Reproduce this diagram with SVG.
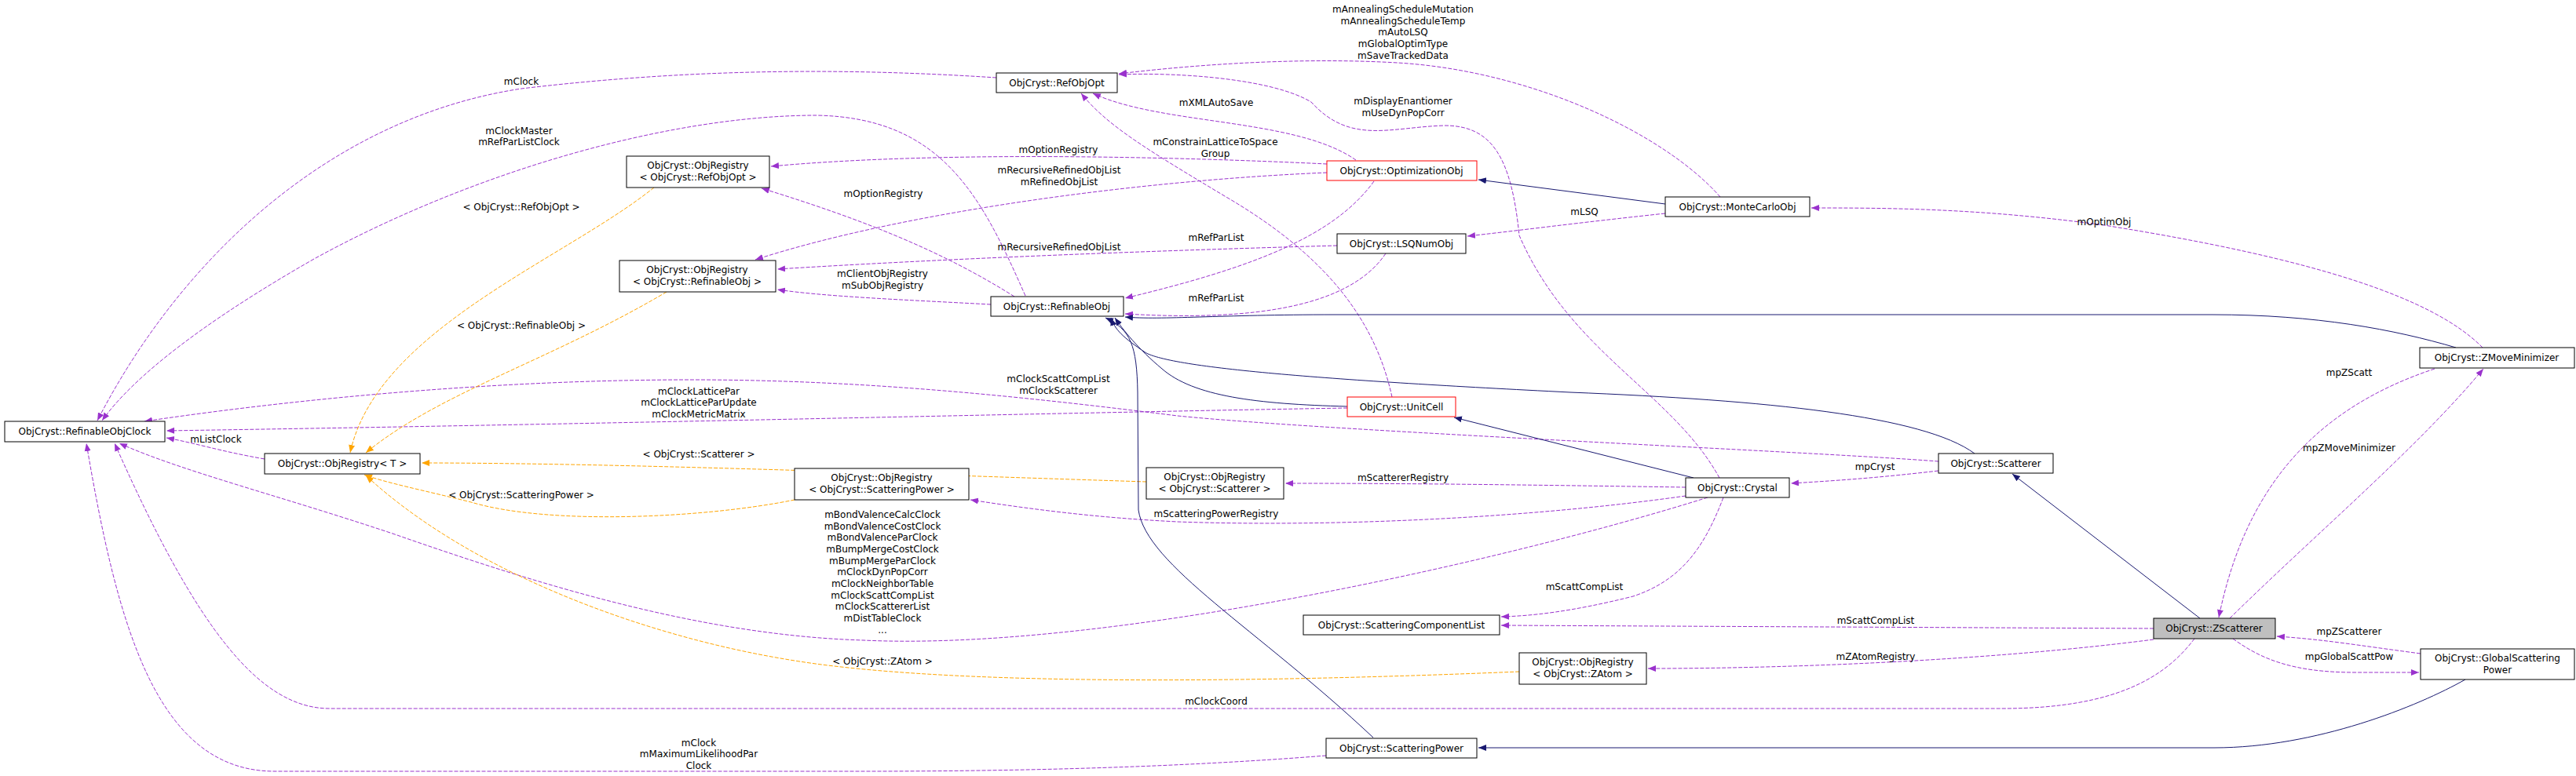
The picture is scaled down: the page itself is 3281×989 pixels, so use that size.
<svg xmlns="http://www.w3.org/2000/svg" width="3281" height="989" viewBox="0 0 3281 989">
<defs>
<style>
text{font-family:"DejaVu Sans","Liberation Sans",sans-serif;font-size:12px;fill:#000;text-anchor:middle}
.n rect{fill:#fff;stroke:#000;stroke-width:1}
.n rect.red{stroke:#ff0000}
.n rect.cur{fill:#bfbfbf;stroke:#000}
.u{fill:none;stroke:#9a32cd;stroke-width:1;stroke-dasharray:5,2;marker-end:url(#mp)}
.t{fill:none;stroke:#ffa500;stroke-width:1;stroke-dasharray:5,2;marker-end:url(#mo)}
.i{fill:none;stroke:#191970;stroke-width:1;marker-end:url(#mn)}
</style>
<marker id="mp" viewBox="0 0 10 10" refX="10" refY="5" markerWidth="10" markerHeight="10" markerUnits="userSpaceOnUse" orient="auto"><path d="M0,1 L10,5 L0,9 z" fill="#9a32cd"/></marker>
<marker id="mo" viewBox="0 0 10 10" refX="10" refY="5" markerWidth="10" markerHeight="10" markerUnits="userSpaceOnUse" orient="auto"><path d="M0,1 L10,5 L0,9 z" fill="#ffa500"/></marker>
<marker id="mn" viewBox="0 0 10 10" refX="10" refY="5" markerWidth="10" markerHeight="10" markerUnits="userSpaceOnUse" orient="auto"><path d="M0,1 L10,5 L0,9 z" fill="#191970"/></marker>
</defs>
<rect width="3281" height="989" fill="#fff"/>
<g id="connectors">
<path class="u" d="M1269,99 C1100,88 900,85 664,113 C420,150 230,330 124,536"/>
<path class="u" d="M1306,377 C1250,250 1200,150 1040,147 C850,147 600,220 400,330 C260,410 170,480 130,536"/>
<path class="u" d="M1690,209 C1500,200 1200,192 982,212"/>
<path class="u" d="M1292,378 C1200,320 1100,280 970,240"/>
<path class="u" d="M1690,220 C1450,230 1150,270 962,331"/>
<path class="u" d="M1703,313 C1450,320 1200,330 990,343"/>
<path class="u" d="M1262,388 C1150,382 1050,378 990,369"/>
<path class="u" d="M1727,204 C1650,150 1480,160 1392,119"/>
<path class="u" d="M1773,506 C1750,400 1680,320 1560,250 C1460,190 1410,160 1377,119"/>
<path class="u" d="M2191,251 C2120,170 1950,90 1780,80 C1640,72 1500,85 1425,94"/>
<path class="u" d="M2190,609 C2130,500 2000,450 1935,300 C1925,200 1900,160 1840,160 C1770,162 1720,185 1670,130 C1620,100 1500,92 1425,95"/>
<path class="u" d="M1750,231 C1700,300 1600,340 1433,380"/>
<path class="u" d="M1765,323 C1720,390 1600,410 1433,400"/>
<path class="u" d="M2121,272 C2000,285 1950,292 1869,301"/>
<path class="u" d="M3162,443 C3100,380 2950,330 2680,287 C2520,265 2400,265 2307,265"/>
<path class="u" d="M337,585 C280,575 250,565 212,558"/>
<path class="u" d="M1716,520 C1400,525 800,540 212,549"/>
<path class="u" d="M2469,588 C2300,575 1700,550 1500,530 C1300,505 1100,484 880,484 C650,484 400,505 184,537"/>
<path class="u" d="M2175,634 C1900,720 1400,830 1100,816 C900,810 700,750 500,680 C350,630 230,600 152,565"/>
<path class="u" d="M2795,814 C2760,860 2700,903 2550,903 L420,903 C330,903 250,800 146,565"/>
<path class="u" d="M1689,963 C1500,978 1300,983 1100,983 L350,983 C200,983 150,800 110,565"/>
<path class="u" d="M2147,621 C1950,618 1800,616 1637,616"/>
<path class="u" d="M2147,632 C1950,660 1700,672 1500,665 C1400,660 1320,650 1236,637"/>
<path class="u" d="M2195,634 C2170,700 2140,740 2080,760 C2000,780 1950,785 1912,786"/>
<path class="u" d="M2743,801 L1912,797"/>
<path class="u" d="M2743,815 C2550,840 2300,852 2099,852"/>
<path class="u" d="M2469,600 C2400,608 2350,612 2281,616"/>
<path class="u" d="M3101,470 C2950,520 2860,620 2826,787"/>
<path class="u" d="M2840,788 C2950,680 3080,570 3163,470"/>
<path class="u" d="M3083,833 C3000,822 2960,815 2900,811"/>
<path class="u" d="M2844,814 C2880,840 2920,857 3000,857 L3081,857"/>
<path class="t" d="M833,239 C720,330 480,420 446,577"/>
<path class="t" d="M849,372 C700,460 560,500 466,577"/>
<path class="t" d="M1460,614 C1200,606 800,590 537,590"/>
<path class="t" d="M1012,637 C900,660 700,670 600,640 C540,625 490,615 464,605"/>
<path class="t" d="M1935,856 C1600,870 1200,875 1000,840 C820,810 600,730 466,606"/>
<path class="i" d="M2121,260 L1883,229"/>
<path class="i" d="M3128,443 C3050,420 2950,401 2818,401 L1700,401 C1550,401 1480,408 1433,404"/>
<path class="i" d="M1716,518 C1600,515 1520,505 1480,470 C1450,445 1430,420 1420,405"/>
<path class="i" d="M2515,578 C2450,530 2250,510 2000,500 C1700,485 1500,470 1460,450 C1430,430 1420,420 1415,405"/>
<path class="i" d="M1749,940 C1600,800 1460,720 1450,650 L1449,500 C1448,440 1440,420 1408,405"/>
<path class="i" d="M2157,609 L1852,532"/>
<path class="i" d="M2802,788 L2563,604"/>
<path class="i" d="M3140,866 C3080,900 2950,953 2820,953 L1883,953"/>
</g>
<g id="labels">
<text x="664" y="108">mClock</text>
<text x="661" y="171">mClockMaster</text>
<text x="661" y="185">mRefParListClock</text>
<text x="664" y="268">&lt; ObjCryst::RefObjOpt &gt;</text>
<text x="664" y="419">&lt; ObjCryst::RefinableObj &gt;</text>
<text x="1787" y="16">mAnnealingScheduleMutation</text>
<text x="1787" y="31">mAnnealingScheduleTemp</text>
<text x="1787" y="45">mAutoLSQ</text>
<text x="1787" y="60">mGlobalOptimType</text>
<text x="1787" y="75">mSaveTrackedData</text>
<text x="1549" y="135">mXMLAutoSave</text>
<text x="1787" y="133">mDisplayEnantiomer</text>
<text x="1787" y="148">mUseDynPopCorr</text>
<text x="1548" y="185">mConstrainLatticeToSpace</text>
<text x="1548" y="200">Group</text>
<text x="1348" y="195">mOptionRegistry</text>
<text x="1349" y="221">mRecursiveRefinedObjList</text>
<text x="1349" y="236">mRefinedObjList</text>
<text x="1125" y="251">mOptionRegistry</text>
<text x="1549" y="307">mRefParList</text>
<text x="1349" y="319">mRecursiveRefinedObjList</text>
<text x="1124" y="353">mClientObjRegistry</text>
<text x="1124" y="368">mSubObjRegistry</text>
<text x="1549" y="384">mRefParList</text>
<text x="2018" y="274">mLSQ</text>
<text x="2680" y="287">mOptimObj</text>
<text x="1348" y="487">mClockScattCompList</text>
<text x="1348" y="502">mClockScatterer</text>
<text x="890" y="503">mClockLatticePar</text>
<text x="890" y="517">mClockLatticeParUpdate</text>
<text x="890" y="532">mClockMetricMatrix</text>
<text x="275" y="564">mListClock</text>
<text x="890" y="583">&lt; ObjCryst::Scatterer &gt;</text>
<text x="664" y="635">&lt; ObjCryst::ScatteringPower &gt;</text>
<text x="1124" y="660">mBondValenceCalcClock</text>
<text x="1124" y="675">mBondValenceCostClock</text>
<text x="1124" y="689">mBondValenceParClock</text>
<text x="1124" y="704">mBumpMergeCostClock</text>
<text x="1124" y="719">mBumpMergeParClock</text>
<text x="1124" y="733">mClockDynPopCorr</text>
<text x="1124" y="748">mClockNeighborTable</text>
<text x="1124" y="763">mClockScattCompList</text>
<text x="1124" y="777">mClockScattererList</text>
<text x="1124" y="792">mDistTableClock</text>
<text x="1124" y="807">...</text>
<text x="1124" y="847">&lt; ObjCryst::ZAtom &gt;</text>
<text x="890" y="951">mClock</text>
<text x="890" y="965">mMaximumLikelihoodPar</text>
<text x="890" y="980">Clock</text>
<text x="1787" y="613">mScattererRegistry</text>
<text x="1549" y="659">mScatteringPowerRegistry</text>
<text x="2018" y="752">mScattCompList</text>
<text x="1549" y="898">mClockCoord</text>
<text x="2388" y="599">mpCryst</text>
<text x="2389" y="795">mScattCompList</text>
<text x="2389" y="841">mZAtomRegistry</text>
<text x="2992" y="479">mpZScatt</text>
<text x="2992" y="575">mpZMoveMinimizer</text>
<text x="2992" y="809">mpZScatterer</text>
<text x="2992" y="841">mpGlobalScattPow</text>
</g>
<g id="RefinableObjClock" class="n"><rect x="6" y="537" width="204" height="26"/><text x="108" y="554">ObjCryst::RefinableObjClock</text></g>
<g id="ObjRegistryT" class="n"><rect x="337" y="578" width="198" height="26"/><text x="436" y="595">ObjCryst::ObjRegistry&lt; T &gt;</text></g>
<g id="ObjRegistryRefObjOpt" class="n"><rect x="798" y="199" width="182" height="40"/><text x="889" y="215">ObjCryst::ObjRegistry</text><text x="889" y="230">&lt; ObjCryst::RefObjOpt &gt;</text></g>
<g id="ObjRegistryRefinableObj" class="n"><rect x="789" y="332" width="199" height="40"/><text x="888" y="348">ObjCryst::ObjRegistry</text><text x="888" y="363">&lt; ObjCryst::RefinableObj &gt;</text></g>
<g id="ObjRegistryScatteringPower" class="n"><rect x="1012" y="597" width="222" height="40"/><text x="1123" y="613">ObjCryst::ObjRegistry</text><text x="1123" y="628">&lt; ObjCryst::ScatteringPower &gt;</text></g>
<g id="RefObjOpt" class="n"><rect x="1269" y="93" width="154" height="25"/><text x="1346" y="110">ObjCryst::RefObjOpt</text></g>
<g id="OptimizationObj" class="n"><rect class="red" x="1690" y="205" width="191" height="25"/><text x="1785" y="222">ObjCryst::OptimizationObj</text></g>
<g id="LSQNumObj" class="n"><rect x="1703" y="298" width="164" height="25"/><text x="1785" y="315">ObjCryst::LSQNumObj</text></g>
<g id="RefinableObj" class="n"><rect x="1262" y="378" width="169" height="25"/><text x="1346" y="395">ObjCryst::RefinableObj</text></g>
<g id="MonteCarloObj" class="n"><rect x="2121" y="251" width="184" height="25"/><text x="2213" y="268">ObjCryst::MonteCarloObj</text></g>
<g id="UnitCell" class="n"><rect class="red" x="1716" y="506" width="138" height="25"/><text x="1785" y="523">ObjCryst::UnitCell</text></g>
<g id="ObjRegistryScatterer" class="n"><rect x="1460" y="596" width="175" height="40"/><text x="1547" y="612">ObjCryst::ObjRegistry</text><text x="1547" y="627">&lt; ObjCryst::Scatterer &gt;</text></g>
<g id="Crystal" class="n"><rect x="2147" y="609" width="132" height="25"/><text x="2213" y="626">ObjCryst::Crystal</text></g>
<g id="Scatterer" class="n"><rect x="2469" y="578" width="146" height="25"/><text x="2542" y="595">ObjCryst::Scatterer</text></g>
<g id="ScatteringComponentList" class="n"><rect x="1660" y="784" width="250" height="25"/><text x="1785" y="801">ObjCryst::ScatteringComponentList</text></g>
<g id="ObjRegistryZAtom" class="n"><rect x="1935" y="832" width="162" height="40"/><text x="2016" y="848">ObjCryst::ObjRegistry</text><text x="2016" y="863">&lt; ObjCryst::ZAtom &gt;</text></g>
<g id="ScatteringPower" class="n"><rect x="1689" y="941" width="192" height="25"/><text x="1785" y="958">ObjCryst::ScatteringPower</text></g>
<g id="ZScatterer" class="n"><rect class="cur" x="2743" y="788" width="155" height="26"/><text x="2820" y="805">ObjCryst::ZScatterer</text></g>
<g id="ZMoveMinimizer" class="n"><rect x="3082" y="443" width="197" height="26"/><text x="3180" y="460">ObjCryst::ZMoveMinimizer</text></g>
<g id="GlobalScatteringPower" class="n"><rect x="3083" y="827" width="196" height="39"/><text x="3181" y="843">ObjCryst::GlobalScattering</text><text x="3181" y="858">Power</text></g>
</svg>
